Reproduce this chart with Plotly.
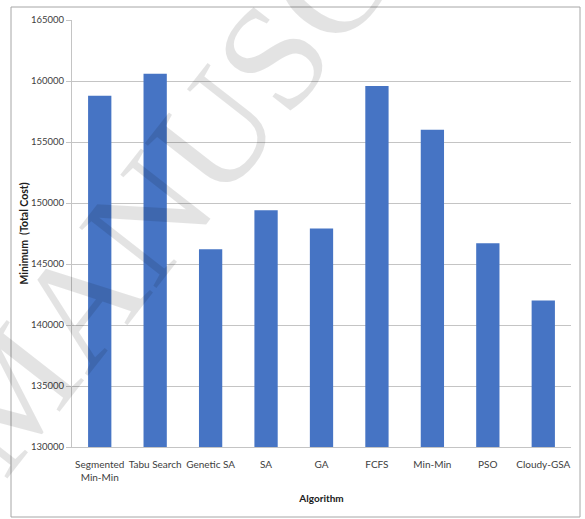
import plotly.graph_objects as go

# Minimum total cost reached by each scheduling algorithm
algorithms = ["Segmented<br>Min-Min", "Tabu Search", "Genetic SA", "SA", "GA",
              "FCFS", "Min-Min", "PSO", "Cloudy-GSA"]
min_total_cost = [158800, 160600, 146200, 149400, 147900, 159600, 156000, 146700, 142000]

y_ticks = [130000, 135000, 140000, 145000, 150000, 155000, 160000, 165000]

BAR_BLUE = "#4674C4"
GRID = "#c4c4c4"
TEXT = "#404040"
FONT = "Lato, 'Open Sans', sans-serif"

fig = go.Figure(
    go.Bar(
        x=algorithms,
        y=min_total_cost,
        marker=dict(color=BAR_BLUE, line=dict(width=0)),
        base=0,
    )
)

fig.update_layout(
    width=585,
    height=519,
    margin=dict(l=72, r=14, t=20, b=72),
    paper_bgcolor="white",
    plot_bgcolor="white",
    bargap=0.58,
    showlegend=False,
    font=dict(family=FONT, size=9.5, color=TEXT),
)

fig.update_yaxes(
    range=[130000, 165000],
    tickvals=y_ticks,
    ticktext=[str(v) for v in y_ticks],
    showgrid=True,
    gridcolor=GRID,
    gridwidth=1,
    zeroline=False,
    showline=True,
    linecolor=GRID,
    linewidth=1,
    ticks="outside",
    ticklen=5,
    tickcolor=GRID,
    tickfont=dict(size=9.5, color=TEXT),
    title=dict(text="<b>Minimum  (Total Cost)</b>", font=dict(size=10.5, color="#202020"), standoff=0),
)

fig.update_xaxes(
    showline=True,
    linecolor=GRID,
    linewidth=1,
    ticks="",
    ticklabelstandoff=8,
    tickfont=dict(size=10, color=TEXT),
    tickangle=0,
    title=dict(text="<b>Algorithm</b>", font=dict(size=10, color="#202020"), standoff=12),
)

# Outer chart frame
fig.add_shape(
    type="rect", xref="paper", yref="paper",
    x0=(11 - 72) / 499, x1=(580 - 72) / 499,
    y0=(447 - 517) / 427, y1=(447 - 7) / 427,
    line=dict(color="#a6a6a6", width=1), fillcolor="rgba(0,0,0,0)", layer="below",
)

# Diagonal watermark
fig.add_annotation(
    text="MANUSCRIPT",
    xref="paper", yref="paper",
    x=(262 - 72) / 499, y=(447 - 70) / 427,
    xanchor="center", yanchor="middle",
    textangle=-52,
    showarrow=False,
    font=dict(family="'Liberation Serif', 'DejaVu Serif', serif", size=150,
              color="rgba(0,0,0,0.11)"),
)

fig.write_html("out.html")
